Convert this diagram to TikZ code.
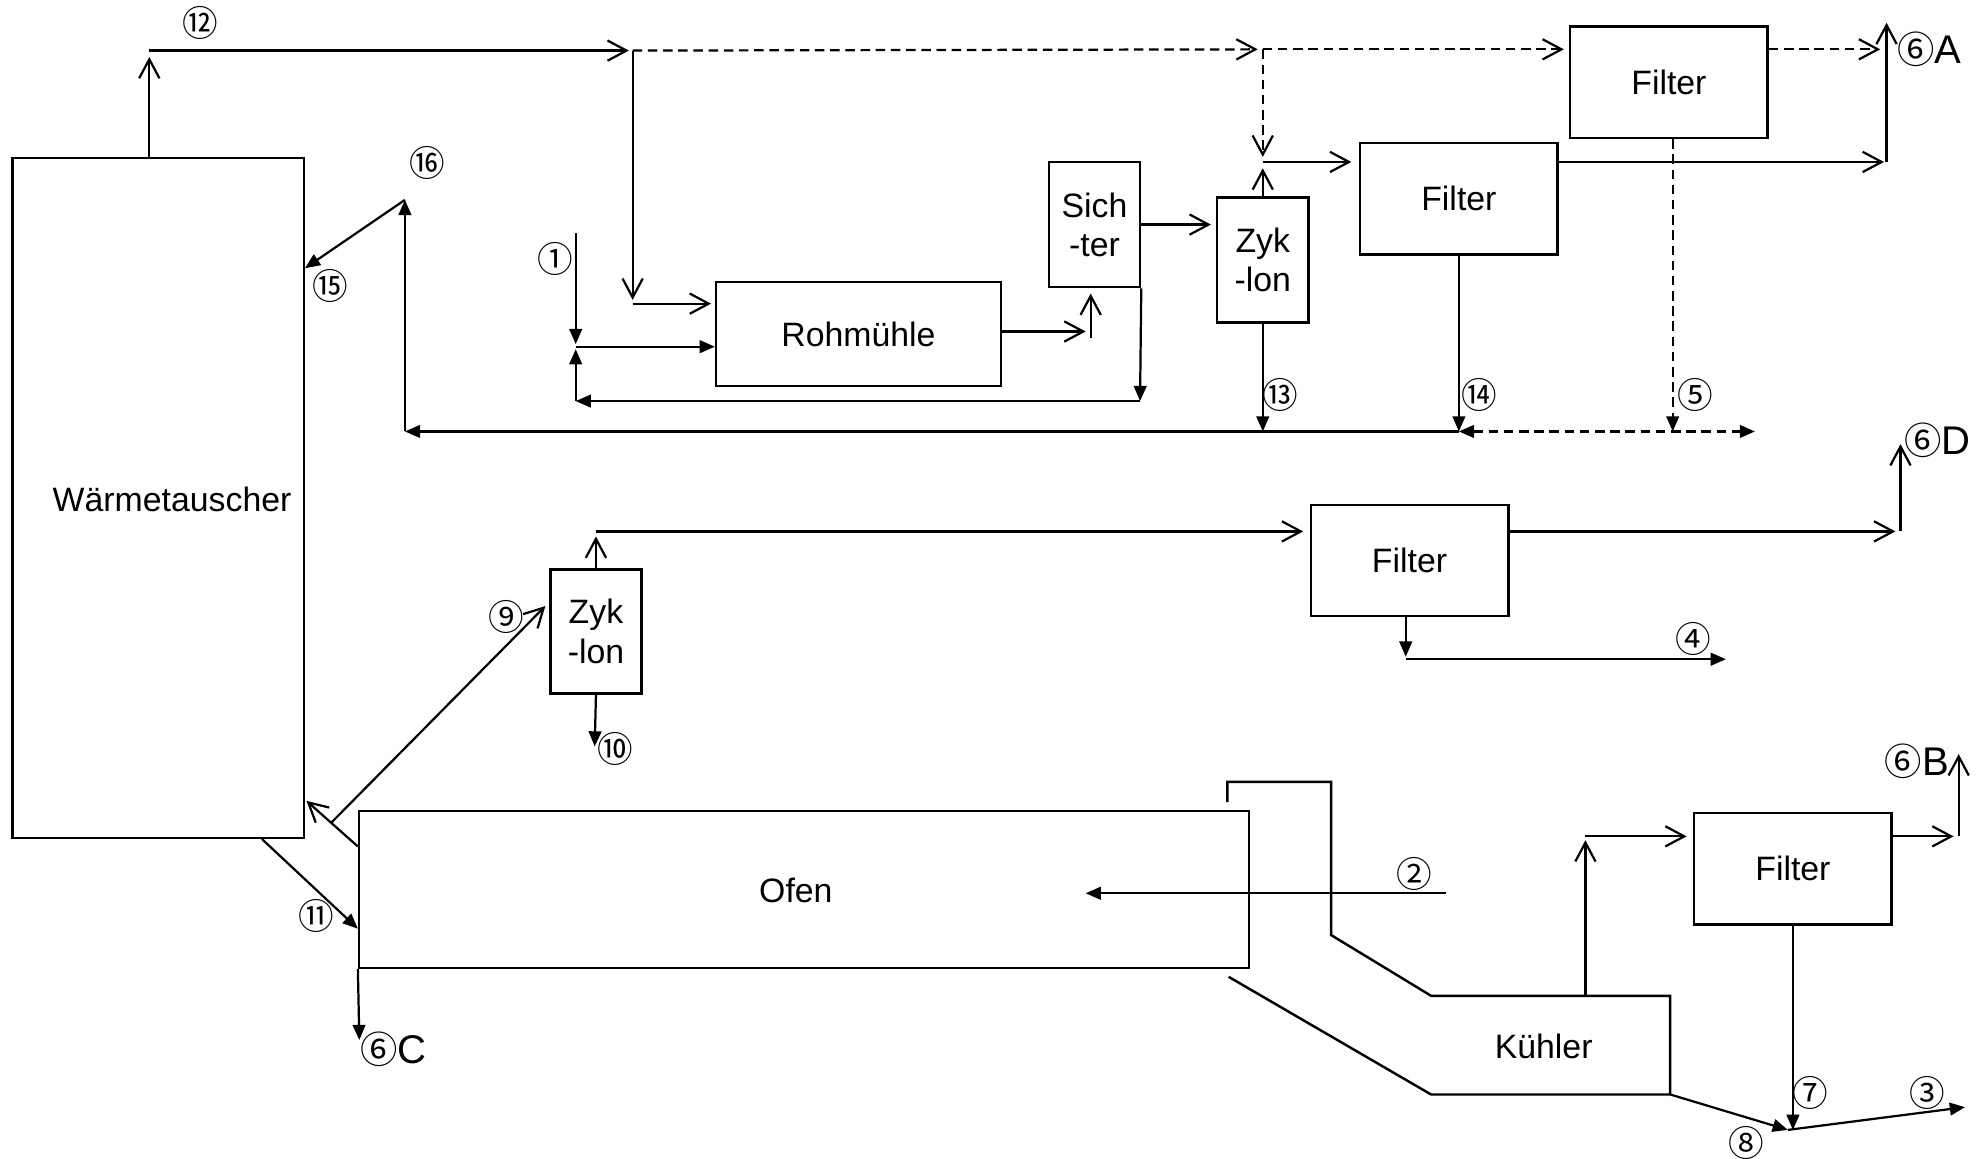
\documentclass[tikz,border=0pt]{standalone}
\usepackage{fontspec}
\usepackage{tikz}
\usetikzlibrary{arrows.meta}
\newfontfamily\lbl{Liberation Sans}
\newfontfamily\numfont{Noto Sans CJK SC}

\newcommand{\six}{{\numfont\fontsize{8.4}{9}\selectfont ⑥}}

\begin{document}
\begin{tikzpicture}[x=0.01cm, y=-0.01cm, line width=0.5pt,
  box/.style={draw, line width=0.55pt, inner sep=0pt, align=center, font=\lbl\fontsize{7.6}{8.8}\selectfont},
  tag/.style={inner sep=0pt, font=\lbl\fontsize{7.6}{8.8}\selectfont},
  num/.style={inner sep=0pt, font=\numfont\fontsize{8}{8}\selectfont},
  outlet/.style={inner sep=0pt, font=\lbl\fontsize{9}{10}\selectfont},
  open/.style={-{Straight Barb[length=1.5mm,width=1.6mm]}},
  arr/.style={-{Triangle[length=1.2mm,width=1mm]}},
  dashline/.style={dash pattern=on 0.75mm off 0.45mm}]

  \useasboundingbox (0,0) rectangle (1568,916);

  \node[box, minimum width=2.30cm, minimum height=5.37cm] (wt) at (125,393.5) {};
  \node[tag] (wtlabel) at (136,395) {Wärmetauscher};
  \node[box, minimum width=1.56cm, minimum height=0.88cm] (filA) at (1319,65) {Filter};
  \node[box, minimum width=1.56cm, minimum height=0.88cm] (filM) at (1153,157) {Filter};
  \node[box, minimum width=0.72cm, minimum height=0.99cm] (zykA) at (998,205.5) {Zyk\\-lon};
  \node[box, minimum width=0.72cm, minimum height=0.99cm] (sichter) at (865,177.5) {Sich\\-ter};
  \node[box, minimum width=2.25cm, minimum height=0.82cm] (rohm) at (678.5,264) {Rohmühle};
  \node[box, minimum width=1.56cm, minimum height=0.88cm] (filD) at (1114,443) {Filter};
  \node[box, minimum width=0.72cm, minimum height=0.98cm] (zykB) at (471,499) {Zyk\\-lon};
  \node[box, minimum width=7.03cm, minimum height=1.24cm] (ofen) at (635.5,703) {};
  \node[tag] (ofenlabel) at (629,704) {Ofen};
  \node[box, minimum width=1.56cm, minimum height=0.88cm] (filB) at (1417,686.5) {Filter};

  \coordinate (p12) at (118,40);
  \coordinate (j12) at (500,40);
  \coordinate (jz) at (998,39);
  \coordinate (jzt) at (998,128);
  \coordinate (r1) at (500,240);
  \coordinate (a6) at (1491,128);
  \coordinate (a6t) at (1491,18);
  \coordinate (c5) at (1322,341);
  \coordinate (c5e) at (1387,341);
  \coordinate (s1) at (862,262);
  \coordinate (rt) at (901,317);
  \coordinate (rl) at (455,317);
  \coordinate (jf) at (455,274);
  \coordinate (f1) at (455,184);
  \coordinate (c13) at (998,341);
  \coordinate (c14) at (1153,341);
  \coordinate (c16b) at (320,341);
  \coordinate (c16t) at (320,158);
  \coordinate (c15) at (240,212);
  \coordinate (d6) at (1502,420);
  \coordinate (d6t) at (1502,351);
  \coordinate (z2) at (471,420);
  \coordinate (c10) at (470,590);
  \coordinate (c4a) at (1111,521);
  \coordinate (c4b) at (1364,521);
  \coordinate (o9) at (283,669);
  \coordinate (wt9) at (240,631);
  \coordinate (c9a) at (262,650);
  \coordinate (z9) at (431,479);
  \coordinate (c11a) at (207,662);
  \coordinate (c11b) at (283,734);
  \coordinate (c6c) at (284,822);
  \coordinate (c2r) at (1143,706);
  \coordinate (c2l) at (858,706);
  \coordinate (ku) at (1253,787);
  \coordinate (kut) at (1253,661);
  \coordinate (b6) at (1548,661);
  \coordinate (b6t) at (1548,596);
  \coordinate (c78) at (1413,893);
  \coordinate (kbr) at (1320,865);
  \coordinate (c3) at (1553,875);

  % gas path at the top
  \draw[open, shorten >=0.5mm] (wt.north -| p12) -- (p12);
  \draw[open, shorten >=0.3mm] (p12) -- (j12);
  \draw[dashline, open, shorten >=0.4mm] (j12) -- (jz);
  \draw[dashline, open, shorten >=0.4mm] (jz) -- (jz -| filA.west);
  \draw[dashline, open, shorten >=0.4mm] (jz) -- (jzt);
  \draw[dashline, open, shorten >=0.5mm] (filA.east |- jz) -- (a6 |- jz);
  \draw[open] (a6) -- (a6t);
  \draw[dashline, arr] (filA.south -| c5) -- (c5); % 5

  \draw[open, shorten >=0.3mm] (j12) -- (r1);
  \draw[open, shorten >=0.3mm] (r1) -- (r1 -| rohm.west);

  \draw[open, shorten >=0.5mm] (zykA.north) -- (zykA.north |- jzt);
  \draw[open, shorten >=0.6mm] (jzt) -- (jzt -| filM.west);
  \draw[open, shorten >=0.2mm] (filM.east |- a6) -- (a6);

  % mill circuit
  \draw[open, shorten >=0.4mm] (sichter.east) -- (sichter.east -| zykA.west);
  \draw[open, shorten >=0.4mm] (rohm.east |- s1) -- (s1);
  \draw[open, shorten >=0.4mm] ([yshift=-0.5mm]s1) -- (s1 |- sichter.south);
  \draw[arr] (sichter.south east) -- (rt);
  \draw[arr] (rt) -- (rl);
  \draw[arr, shorten >=0.2mm] (rl) -- (jf);
  \draw[arr, shorten >=0.2mm] (f1) -- (jf); % 1
  \draw[arr] (jf) -- (jf -| rohm.west);

  % dust return
  \draw[arr] (zykA.south) -- (c13); % 13
  \draw[arr] (filM.south) -- (c14); % 14
  \draw[arr] (c14) -- (c16b);
  \draw[arr] (c16b) -- (c16t);
  \draw[arr] (c16t) -- (wt.east |- c15); % 15
  \draw[dashline, {Triangle[length=1.2mm,width=1mm]}-{Triangle[length=1.2mm,width=1mm]}] (c14) -- (c5e);

  % kiln gas
  \draw[open, shorten >=0.3mm] (ofen.west |- o9) -- (wt9);
  \draw[open] (c9a) -- (z9); % 9
  \draw[arr] (wt.south -| c11a) -- (ofen.west |- c11b); % 11
  \draw[arr] (ofen.south west) -- (c6c);
  \draw[arr] (zykB.south) -- (c10); % 10
  \draw[open, shorten >=0.4mm] (zykB.north) -- (z2);
  \draw[open, shorten >=0.5mm] (z2) -- (z2 -| filD.west);
  \draw[open, shorten >=0.4mm] (filD.east |- d6) -- (d6);
  \draw[open] (d6) -- (d6t);
  \draw[arr, shorten >=0.2mm] (filD.south -| c4a) -- (c4a);
  \draw[arr] (c4a) -- (c4b); % 4
  \draw[arr] (c2r) -- (c2l); % 2

  % cooler
  \draw[line width=0.55pt] (970,634) -- (970,618) -- (1052,618) -- (1052,739) -- (1131,787)
    -- (1320,787) -- (kbr) -- (1131,865) -- (971,772);
  \node[tag] (kuehler) at (1220,827) {Kühler};
  \draw[open, shorten >=0.3mm] (ku) -- (kut);
  \draw[open, shorten >=0.5mm] (kut) -- (kut -| filB.west);
  \draw[open, shorten >=0.4mm] (filB.east |- b6) -- (b6);
  \draw[open] (b6) -- (b6t);
  \draw[arr] (filB.south) -- (filB.south |- c78); % 7
  \draw[arr] (kbr) -- (c78); % 8
  \draw[arr] (c78) -- (c3); % 3

  \node[num] (n12) at (158,18) {⑫};
  \node[num] (n16) at (338,129) {⑯};
  \node[num] (n15) at (261,226) {⑮};
  \node[num] (n1) at (439,205) {①};
  \node[num] (n13) at (1012,312) {⑬};
  \node[num] (n14) at (1169,312) {⑭};
  \node[num] (n5) at (1340,312) {⑤};
  \node[num] (n4) at (1338,505) {④};
  \node[num] (n9) at (400,488) {⑨};
  \node[num] (n10) at (486,592) {⑩};
  \node[num] (n11) at (250,724) {⑪};
  \node[num] (n2) at (1118,691) {②};
  \node[num] (n7) at (1431,864) {⑦};
  \node[num] (n8) at (1380,903) {⑧};
  \node[num] (n3) at (1523,864) {③};

  \node[outlet] (o6a) at (1525,39) {\six A};
  \node[outlet] (o6d) at (1531,348) {\six D};
  \node[outlet] (o6b) at (1515,602) {\six B};
  \node[outlet] (o6c) at (311,829) {\six C};

\end{tikzpicture}
\end{document}
